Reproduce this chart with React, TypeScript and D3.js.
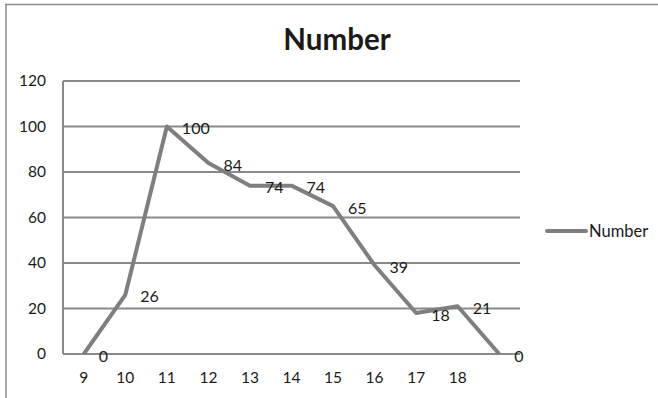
import React from "react";
import * as d3 from "d3";

const categories: string[] = ["9", "10", "11", "12", "13", "14", "15", "16", "17", "18", ""];
const values: number[] = [0, 26, 100, 84, 74, 74, 65, 39, 18, 21, 0];
const yTicks: number[] = [0, 20, 40, 60, 80, 100, 120];
const seriesName = "Number";
const title = "Number";

const W = 658;
const H = 398;
const FONT = "Lato, 'Open Sans', sans-serif";

export default function App() {
  const left = 63, right = 520, top = 81, bottom = 354;
  const x = d3.scaleBand<string>().domain(categories.map((c, i) => i + ":" + c)).range([left, right]);
  const xc = (i: number) => (x(i + ":" + categories[i]) as number) + x.bandwidth() / 2;
  const y = d3.scaleLinear().domain([0, 120]).range([bottom, top]);
  const line = d3.line<number>().x((_, i) => xc(i)).y((d) => y(d));
  const grid = "#8a8a8a";
  const lineColor = "#7f7f7f";
  return (
    <svg width={W} height={H} style={{ position: "absolute", left: 0, top: 0, background: "#fff" }} fontFamily={FONT}>
      <rect x={0} y={0} width={W} height={H} fill="#fff" />
      <line x1={5} x2={W} y1={4.5} y2={4.5} stroke="#8c8c8c" strokeWidth={1.5} />
      <line x1={6} x2={6} y1={4} y2={H} stroke="#8c8c8c" strokeWidth={1.5} />
      <text x={337} y={50} textAnchor="middle" fontSize={29.5} fontWeight={700} fill="#1a1a1a">{title}</text>
      {yTicks.map((t) => (
        <g key={t}>
          <line x1={left} x2={right} y1={y(t)} y2={y(t)} stroke={grid} strokeWidth={2} />
          <text x={46} y={y(t)} dy="0.35em" textAnchor="end" fontSize={15.5} fill="#1a1a1a">{t}</text>
        </g>
      ))}
      <line x1={left} x2={left} y1={top} y2={bottom} stroke={grid} strokeWidth={2} />
      {categories.map((c, i) => (
        <text key={i} x={xc(i)} y={378} dy="0.35em" textAnchor="middle" fontSize={15.5} fill="#1a1a1a">{c}</text>
      ))}
      <path d={line(values) || ""} fill="none" stroke={lineColor} strokeWidth={4} strokeLinejoin="round" />
      {values.map((v, i) => (
        <text key={i} x={xc(i) + 15} y={y(v) + 2} dy="0.35em" textAnchor="start" fontSize={16} fill="#1a1a1a">{v}</text>
      ))}
      <line x1={547} x2={586} y1={231} y2={231} stroke={lineColor} strokeWidth={4} strokeLinecap="round" />
      <text x={589} y={231} dy="0.35em" fontSize={16.5} fill="#1a1a1a">{seriesName}</text>
    </svg>
  );
}
